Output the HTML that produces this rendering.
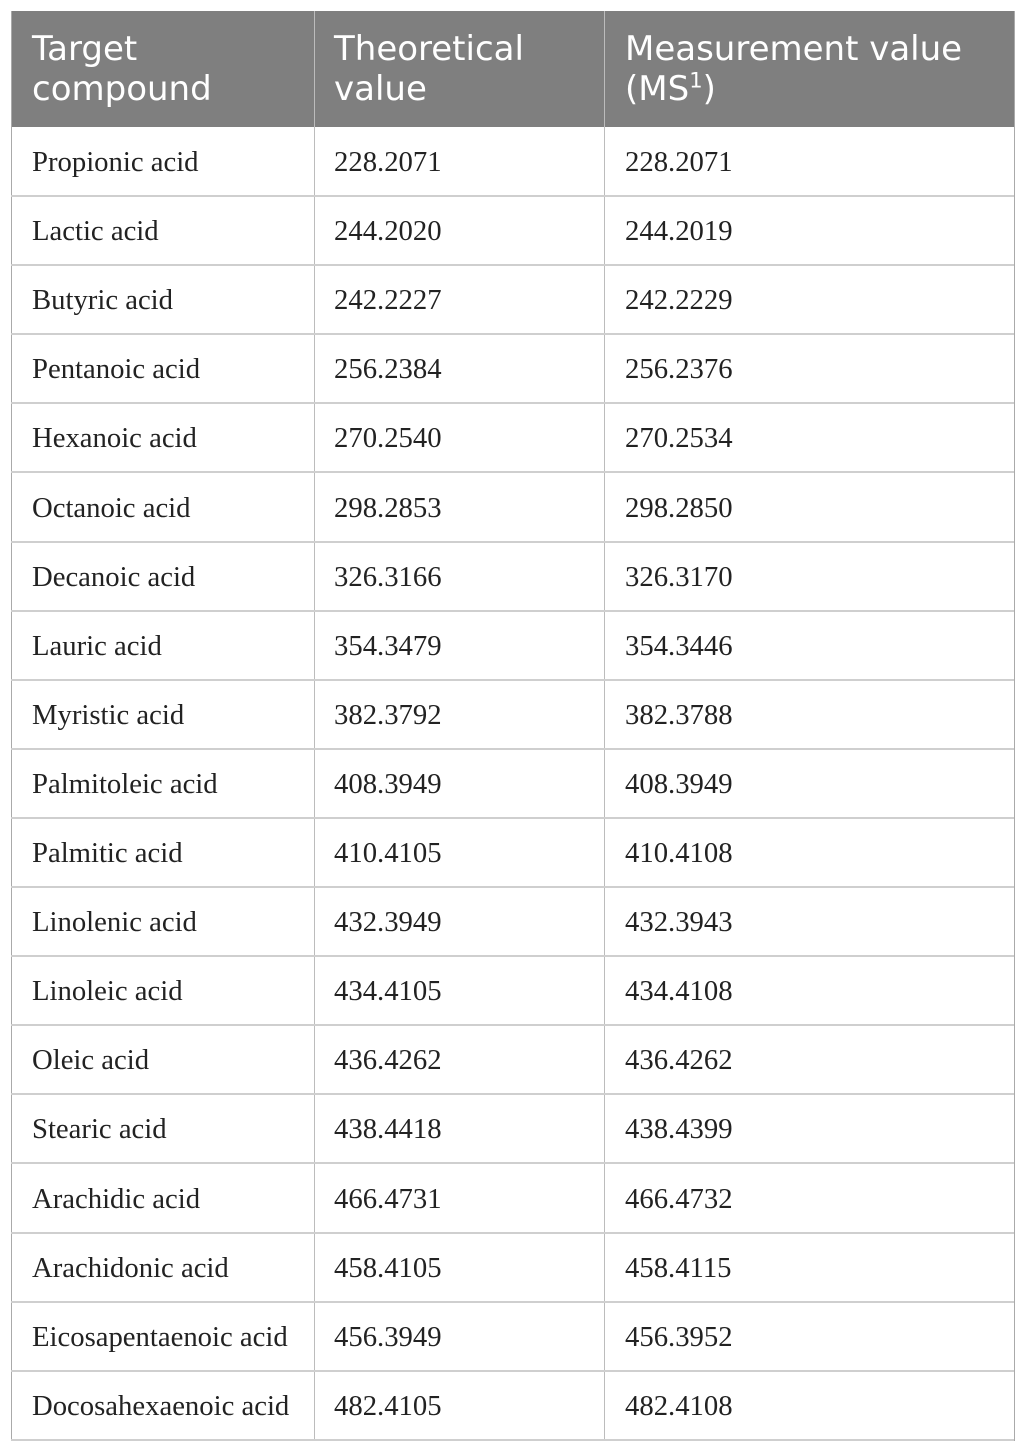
<!DOCTYPE html>
<html><head><style>
body{margin:0;background:#fff;width:1025px;height:1452px;position:relative;overflow:hidden}
.h{position:absolute;top:11px;left:11px;width:1003px;height:116px;background:#7f7f7f}
.ht{position:absolute;color:#fff;font-family:"DejaVu Sans","Liberation Sans",sans-serif;font-size:34px;line-height:40px;top:29px}
.v{position:absolute;width:1px;background:#c4c4c4}
.hl{position:absolute;left:11px;width:1003px;height:2px;background:#cfcfcf}
.c{position:absolute;font-family:"Liberation Serif",serif;font-size:28.7px;color:#222;line-height:30px}
</style></head><body>
<div class="h"></div>
<div class="ht" style="left:32px">Target<br>compound</div>
<div class="ht" style="left:334px">Theoretical<br>value</div>
<div class="ht" style="left:625px">Measurement value<br>(MS<sup style="font-size:21px;line-height:0">1</sup>)</div>
<div class="v" style="left:314px;top:11px;height:1430px;background:#bcbcbc"></div>
<div class="v" style="left:604px;top:11px;height:1430px;background:#bcbcbc"></div>
<div class="v" style="left:11px;top:11px;height:1430px;background:#aaa"></div>
<div class="v" style="left:1014px;top:11px;height:1430px;background:#aaa"></div>
<div id="rows"></div>
<script>
var d=[["Propionic acid","228.2071","228.2071"],["Lactic acid","244.2020","244.2019"],["Butyric acid","242.2227","242.2229"],["Pentanoic acid","256.2384","256.2376"],["Hexanoic acid","270.2540","270.2534"],["Octanoic acid","298.2853","298.2850"],["Decanoic acid","326.3166","326.3170"],["Lauric acid","354.3479","354.3446"],["Myristic acid","382.3792","382.3788"],["Palmitoleic acid","408.3949","408.3949"],["Palmitic acid","410.4105","410.4108"],["Linolenic acid","432.3949","432.3943"],["Linoleic acid","434.4105","434.4108"],["Oleic acid","436.4262","436.4262"],["Stearic acid","438.4418","438.4399"],["Arachidic acid","466.4731","466.4732"],["Arachidonic acid","458.4105","458.4115"],["Eicosapentaenoic acid","456.3949","456.3952"],["Docosahexaenoic acid","482.4105","482.4108"]];
var h="";for(var i=0;i<d.length;i++){var t=127+i*69.1;
h+='<div class="c" style="left:32px;top:'+(t+20)+'px">'+d[i][0]+'</div><div class="c" style="left:334px;top:'+(t+20)+'px">'+d[i][1]+'</div><div class="c" style="left:625px;top:'+(t+20)+'px">'+d[i][2]+'</div><div class="hl" style="top:'+(t+68)+'px"></div>';}
document.getElementById("rows").innerHTML=h;
</script>
</body></html>
